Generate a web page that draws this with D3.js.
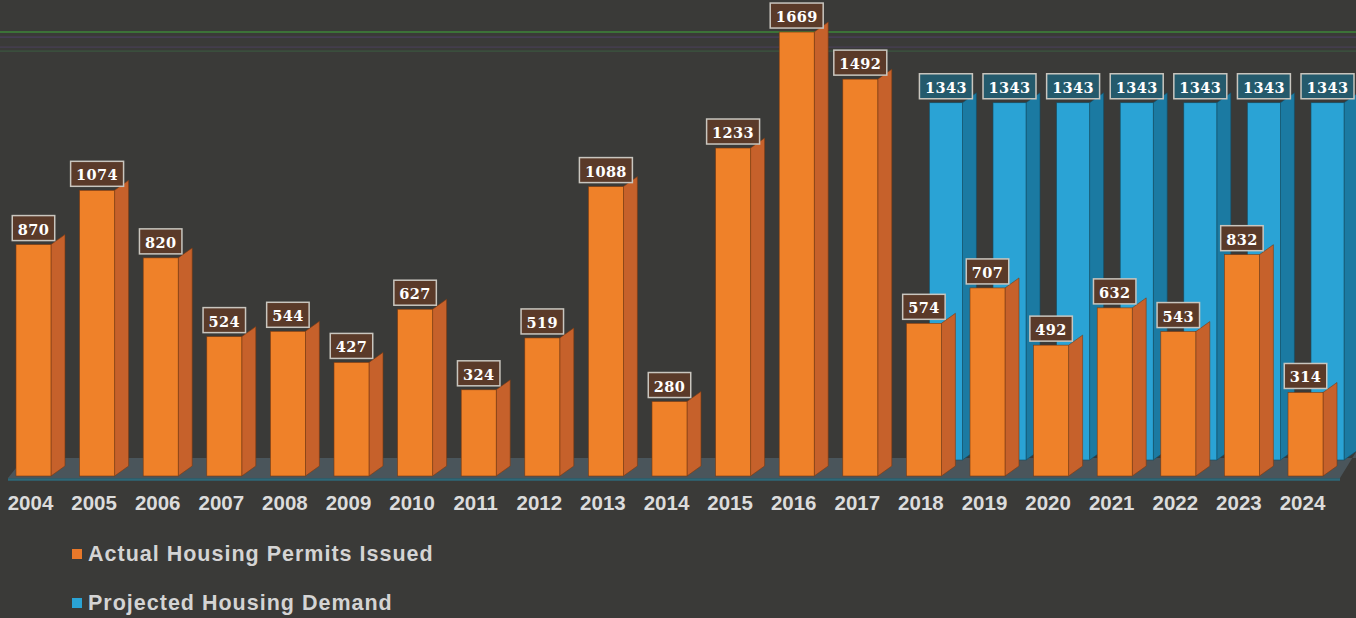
<!DOCTYPE html>
<html>
<head>
<meta charset="utf-8">
<script src="https://cdn.jsdelivr.net/npm/d3@7"></script>
<style>
  html, body { margin: 0; padding: 0; background: #3a3a38; }
  svg { display: block; }
</style>
</head>
<body>
<svg id="chart" width="1356" height="618"></svg>
<script>
// ---- data ----
const years = ["2004","2005","2006","2007","2008","2009","2010","2011","2012","2013","2014","2015","2016","2017","2018","2019","2020","2021","2022","2023","2024"];
const actualPermits = [870,1074,820,524,544,427,627,324,519,1088,280,1233,1669,1492,574,707,492,632,543,832,314];
const demandYears = ["2018","2019","2020","2021","2022","2023","2024"];
const projectedDemand = [1343,1343,1343,1343,1343,1343,1343];
const seriesNames = ["Actual Housing Permits Issued", "Projected Housing Demand"];
const gridValues = [1669, 1650, 1612, 1597];

// ---- layout ----
const W = 1356, H = 618;
const baseY = 476;
const depthX = 14, depthY = -10;     // 3D side depth
const rowShiftX = 23, rowShiftY = -16; // back row offset
const colors = {
  orangeFront: "#ef8129", orangeSide: "#c6612b", orangeStroke: "#7a3a12",
  blueFront: "#2aa3d5", blueSide: "#1b7aa2", blueStroke: "#134f66"
};

const svg = d3.select("#chart");
svg.append("rect").attr("width", W).attr("height", H).attr("fill", "#3a3a38");

const x = d3.scaleBand().domain(years).range([16, 1323]).paddingInner(0.45).paddingOuter(0);
const y = d3.scaleLinear().domain([0, 1800]).range([baseY, baseY - 1800 * 0.266]);

// grid-like lines near the top
const gridColors = ["#3f8f3a", "#4d4160", "#4a4058", "#3d5a40"];
svg.append("g").selectAll("line").data(gridValues).join("line")
  .attr("x1", 0).attr("x2", W)
  .attr("y1", d => y(d)).attr("y2", d => y(d))
  .attr("stroke", (d, i) => gridColors[i])
  .attr("stroke-width", (d, i) => i === 0 ? 1.6 : 1.2)
  .attr("opacity", 0.9);

// floor
const floorFrontY = baseY + 2, floorBackY = baseY + rowShiftY - 2;
svg.append("path")
  .attr("d", `M8,${floorFrontY} L1340,${floorFrontY} L1356,${floorBackY - 6} L1356,${floorBackY} L24,${floorBackY} Z`)
  .attr("fill", "#4a555b");
svg.append("line")
  .attr("x1", 8).attr("x2", 1340).attr("y1", floorFrontY + 1.5).attr("y2", floorFrontY + 1.5)
  .attr("stroke", "#2e6878").attr("stroke-width", 2.5);

function drawBars(g, data, dx, dy, front, side, stroke, wFront) {
  const grp = g.selectAll("g.bar").data(data).join("g").attr("class", "bar");
  grp.append("path")
    .attr("d", d => {
      const x0 = x(d.year) + dx + wFront, top = y(d.value) + dy, bot = y(0) + dy;
      return `M${x0},${top} L${x0 + depthX},${top + depthY} L${x0 + depthX},${bot + depthY} L${x0},${bot} Z`;
    })
    .attr("fill", side).attr("stroke", stroke).attr("stroke-width", 0.6);
  grp.append("rect")
    .attr("x", d => x(d.year) + dx)
    .attr("y", d => y(d.value) + dy)
    .attr("width", wFront)
    .attr("height", d => y(0) - y(d.value))
    .attr("fill", front).attr("stroke", stroke).attr("stroke-width", 0.6);
}

const blueData = demandYears.map((yr, i) => ({ year: yr, value: projectedDemand[i] }));
const orangeData = years.map((yr, i) => ({ year: yr, value: actualPermits[i] }));

const gBlue = svg.append("g");
drawBars(gBlue, blueData, rowShiftX, rowShiftY, colors.blueFront, colors.blueSide, colors.blueStroke, 33);
const gOrange = svg.append("g");
drawBars(gOrange, orangeData, 0, 0, colors.orangeFront, colors.orangeSide, colors.orangeStroke, x.bandwidth());

function drawLabels(data, dx, dy, wFront, boxFill) {
  const g = svg.append("g");
  data.forEach(d => {
    const cx = x(d.year) + dx + wFront / 2;
    const top = y(d.value) + dy;
    const lg = g.append("g");
    const t = lg.append("text")
      .attr("x", cx).attr("y", top - 10)
      .attr("text-anchor", "middle")
      .attr("font-family", "DejaVu Serif, serif")
      .attr("font-weight", "bold")
      .attr("font-size", 14.5)
      .attr("letter-spacing", 0.4)
      .attr("fill", "#ffffff")
      .text(d.value);
    const bb = t.node().getBBox();
    const bw = bb.width + 11;
    lg.insert("rect", "text")
      .attr("x", cx - bw / 2).attr("y", top - 29)
      .attr("width", bw).attr("height", 25)
      .attr("fill", boxFill)
      .attr("stroke", "#c9c6bf").attr("stroke-width", 1.5);
  });
}
drawLabels(blueData, rowShiftX, rowShiftY, 33, "#245a6c");
drawLabels(orangeData, 0, 0, x.bandwidth(), "#5a3a29");

// x axis labels
const xAxis = d3.axisBottom(x).tickSize(0).tickPadding(0);
const ax = svg.append("g").attr("transform", `translate(-3, 495)`).call(xAxis);
ax.select(".domain").remove();
ax.selectAll("text")
  .attr("font-family", "Liberation Sans, Arial, sans-serif")
  .attr("font-weight", "bold")
  .attr("font-size", 20.5)
  .attr("fill", "#dcdcdc");

// legend
const leg = svg.append("g");
seriesNames.forEach((name, i) => {
  const ly = 561 + i * 49;
  leg.append("rect").attr("x", 72).attr("y", ly - 12).attr("width", 10).attr("height", 10)
    .attr("fill", i === 0 ? "#e8782a" : "#2aa3d5");
  leg.append("text").attr("x", 88).attr("y", ly)
    .attr("font-family", "Liberation Sans, Arial, sans-serif")
    .attr("font-weight", "bold")
    .attr("font-size", 21.5)
    .attr("letter-spacing", 1.0)
    .attr("fill", "#d4d4d4")
    .text(name);
});
</script>
</body>
</html>
